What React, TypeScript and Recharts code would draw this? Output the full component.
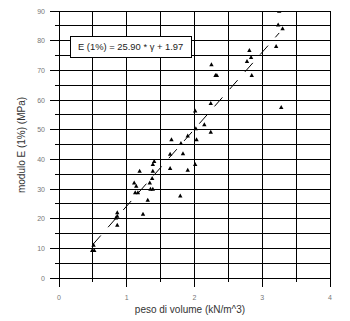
import React from 'react';
import { ScatterChart, Scatter, XAxis, YAxis, CartesianGrid } from 'recharts';

// peso di volume (x) and modulo E(1%) (y)
const gamma = [
  0.49, 0.52, 0.51, 0.86, 0.84, 0.86, 0.86, 1.24, 1.31, 1.125, 1.165, 1.14,
  1.11, 1.34, 1.35, 1.385, 1.375, 1.19, 1.385, 1.385, 1.405, 1.64, 1.64, 1.79,
  1.9, 2.01, 1.83, 1.8, 1.66, 2.03, 1.9, 2.24, 2.02, 2.145, 2.01, 2.24,
  2.31, 2.33, 2.25, 2.775, 2.835, 2.81, 2.845, 3.205, 3.3, 3.235, 3.25, 3.28,
];
const modulus = [
  9.4, 9.4, 11.1, 17.9, 20.3, 20.9, 22.1, 21.6, 26.3, 28.8, 28.8, 31.0,
  32.1, 32.1, 30.0, 30.0, 33.6, 36.1, 36.1, 38.4, 39.4, 41.8, 37.0, 27.7,
  36.4, 38.4, 42.0, 45.4, 46.7, 46.7, 48.0, 49.2, 50.4, 51.8, 56.4, 58.9,
  68.4, 68.4, 72.0, 73.1, 74.4, 76.8, 68.4, 78.1, 84.1, 85.4, 90.0, 57.6,
];

// ends of the dashed fit line as drawn
const fitGamma = [0.5, 3.25];
const fitModulus = [11.3, 82.6];

const xTicks = [0, 0.5, 1, 1.5, 2, 2.5, 3, 3.5, 4];
const yTicks = [0, 5, 10, 15, 20, 25, 30, 35, 40, 45, 50, 55, 60, 65, 70, 75, 80, 85, 90];

const points = gamma.map((g, i) => ({ x: g, y: modulus[i] }));
const fitLine = fitGamma.map((g, i) => ({ x: g, y: fitModulus[i] }));

const FONT = '"Liberation Sans", Arial, sans-serif';
const PLOT_LEFT = 59;
const PLOT_BOTTOM = 278;

const Triangle = (props: any) => {
  const { cx, cy } = props;
  if (cx == null || cy == null) return null;
  return <polygon points={`${cx - 2.2},${cy + 1.8} ${cx + 2.2},${cy + 1.8} ${cx},${cy - 2.2}`} fill="#000" />;
};

const YTick = (props: any) => {
  const { y, payload } = props;
  const major = payload.value % 10 === 0;
  return (
    <g>
      <line
        x1={major ? PLOT_LEFT - 9 : PLOT_LEFT - 4}
        x2={PLOT_LEFT}
        y1={y}
        y2={y}
        stroke="#000"
        shapeRendering="crispEdges"
      />
      {major && (
        <text x={45} y={y} dy={2.5} textAnchor="end" fontSize={7} fill="#777" fontFamily={FONT}>
          {payload.value}
        </text>
      )}
    </g>
  );
};

const XTick = (props: any) => {
  const { x, payload } = props;
  const major = payload.value % 1 === 0;
  return (
    <g>
      <line
        x1={x}
        x2={x}
        y1={PLOT_BOTTOM}
        y2={major ? PLOT_BOTTOM + 9 : PLOT_BOTTOM + 4}
        stroke="#000"
        shapeRendering="crispEdges"
      />
      {major && (
        <text x={x} y={299.5} textAnchor="middle" fontSize={7} fill="#777" fontFamily={FONT}>
          {payload.value}
        </text>
      )}
    </g>
  );
};

export default function App() {
  return (
    <div style={{ position: 'absolute', left: 0, top: 0, width: 350, height: 321, background: '#fff' }}>
      <style>{'.recharts-cartesian-grid line { shape-rendering: crispEdges; }'}</style>
      <ScatterChart width={350} height={321} margin={{ top: 11, right: 20, left: 0, bottom: 0 }}>
        <CartesianGrid stroke="#000" strokeWidth={1} />
        <XAxis
          type="number"
          dataKey="x"
          domain={[0, 4]}
          ticks={xTicks}
          interval={0}
          height={43}
          axisLine={false}
          tickLine={false}
          tick={(p: any) => <XTick {...p} />}
        />
        <YAxis
          type="number"
          dataKey="y"
          domain={[0, 90]}
          allowDataOverflow
          ticks={yTicks}
          interval={0}
          width={59}
          axisLine={false}
          tickLine={false}
          tick={(p: any) => <YTick {...p} />}
        />
        <Scatter
          data={fitLine}
          line={{ stroke: '#000', strokeWidth: 1, strokeDasharray: '12 11' }}
          shape={() => null}
          isAnimationActive={false}
        />
        <Scatter data={points} shape={<Triangle />} isAnimationActive={false} />
        <text
          x={21}
          y={145}
          transform="rotate(-90 21 145)"
          textAnchor="middle"
          dominantBaseline="central"
          fontSize={10}
          fill="#333"
          fontFamily={FONT}
        >
          modulo E (1%)  (MPa)
        </text>
        <text x={190} y={313} textAnchor="middle" fontSize={10} fill="#333" fontFamily={FONT}>
          peso di volume (kN/m^3)
        </text>
      </ScatterChart>
      <div
        style={{
          position: 'absolute',
          left: 70,
          top: 36,
          width: 122,
          height: 22,
          border: '1px solid #000',
          background: '#fff',
          boxSizing: 'border-box',
          fontFamily: FONT,
          fontSize: 9.4,
          color: '#222',
          lineHeight: '20px',
          paddingLeft: 7,
          whiteSpace: 'nowrap',
        }}
      >
        E (1%) = 25.90 * γ + 1.97
      </div>
    </div>
  );
}
